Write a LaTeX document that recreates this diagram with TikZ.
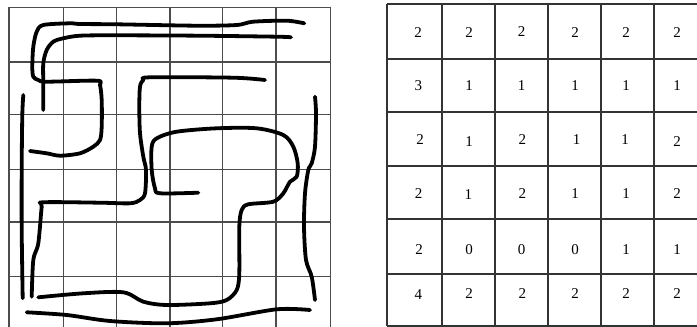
\documentclass[tikz,border=0pt]{standalone}
\usepackage{fontspec}
\setmainfont{Liberation Serif}
\begin{document}
\begin{tikzpicture}[x=1pt,y=-1pt,
  gridline/.style={draw=black!70,line width=1.1pt},
  tabline/.style={draw=black!80,line width=1.8pt},
  pen/.style={draw=black,line width=3.8pt,line cap=round,line join=round},
  num/.style={font=\fontsize{15}{15}\selectfont,inner sep=0pt,anchor=center}]
\useasboundingbox (0,0) rectangle (697,327);
\begin{scope}
\clip (0,0) rectangle (697,327);
% left grid
\foreach \x in {9,63.3,116.7,170,222.7,276,330.7}
  \draw[gridline] (\x,7.3) -- (\x,330);
\foreach \y in {7.3,62,114.3,169.3,222,276.7}
  \draw[gridline] (9,\y) -- (330.7,\y);
% right table
\foreach \x in {386.7,441.7,495,547.7,600.7,654}
  \draw[tabline] (\x,4) -- (\x,326);
\foreach \y in {4,59,111.7,166,219.3,274,326}
  \draw[tabline] (386.7,\y) -- (700,\y);
\end{scope}
% hand-drawn strokes
\draw[pen] plot[smooth,tension=0.5] coordinates {(304.3,23.3) (286.7,20.7) (253,21.7) (236.7,25) (196.7,25.7) (116.7,24.3) (80,24) (70,23.3) (43.3,25) (36.7,31.7) (33.3,46.7) (32.3,66.7) (33.3,76.7) (38.3,80) (46.7,81.7) (96.7,80.7) (100,85) (101.7,100) (101.7,126.7) (100,140) (93.3,146.7) (80,153.3) (60,155.7) (46.7,153.3) (30,151)};
\draw[pen] plot[smooth,tension=0.5] coordinates {(291,37.3) (276.7,36.7) (200,35.7) (116.7,35.3) (80,35.7) (63.3,38.3) (53.3,41.7) (46.7,50) (43.3,63.3) (43.3,83.3) (43.3,100) (43.3,110)};
\draw[pen] plot[smooth,tension=0.5] coordinates {(23.3,95) (22.3,115) (21.7,166.7) (21.7,230) (22.7,298.3)};
\draw[pen] plot[smooth,tension=0.5] coordinates {(265,80) (233.3,77.7) (150,77.3) (143.3,80) (140,86.7) (139.3,106.7) (140,133.3) (143.3,156.7) (146,170) (145,193.3) (140,200) (130,203.3) (100,202.7) (43.3,202.3) (41.7,206.7) (38.3,243.3) (33.3,260) (31.7,296.7)};
\draw[pen] plot[smooth,tension=0.5] coordinates {(198.3,192.7) (160,193.3) (155,188.3) (151.7,170) (151.7,146.7) (156.7,138.3) (176.7,131.7) (216.7,128.3) (256.7,128.3) (283.3,135) (293.3,146.7) (297.7,163.3) (296.7,176.7) (290,181.7) (283.3,193.3) (273.3,201.7) (248.3,204.3) (241.7,210) (239.3,226.7) (239.3,273.3) (236.7,290) (226.7,300) (210,303.3) (166.7,305) (143.3,301.7) (123.3,292.3) (83.3,293.3) (38.3,297.3)};
\draw[pen] plot[smooth,tension=0.5] coordinates {(315,96.7) (316,113.3) (315,146.7) (311.7,163.3) (308.3,170) (305,193.3) (304,226.7) (306,260) (311.7,276.7) (315,300)};
\draw[pen] plot[smooth,tension=0.5] coordinates {(26.7,312.3) (66.7,315) (110,321) (166.7,323.3) (216.7,319.3) (276.7,309.3) (310,310)};
% numbers
\node[num] (r1c1) at (418,33) {2};
\node[num] (r1c2) at (469,33) {2};
\node[num] (r1c3) at (521.7,31.7) {2};
\node[num] (r1c4) at (575,33) {2};
\node[num] (r1c5) at (626,33) {2};
\node[num] (r1c6) at (677,33) {2};
\node[num] (r2c1) at (418.3,86) {3};
\node[num] (r2c2) at (469,86) {1};
\node[num] (r2c3) at (521.7,86) {1};
\node[num] (r2c4) at (575,86) {1};
\node[num] (r2c5) at (626,86) {1};
\node[num] (r2c6) at (677,86) {1};
\node[num] (r3c1) at (420,140) {2};
\node[num] (r3c2) at (469,141.7) {1};
\node[num] (r3c3) at (522.3,140) {2};
\node[num] (r3c4) at (576.7,140) {1};
\node[num] (r3c5) at (625,140) {1};
\node[num] (r3c6) at (677,141.7) {2};
\node[num] (r4c1) at (418.5,193.3) {2};
\node[num] (r4c2) at (468.3,195) {1};
\node[num] (r4c3) at (522.3,193.3) {2};
\node[num] (r4c4) at (575,193.3) {1};
\node[num] (r4c5) at (626,193.3) {1};
\node[num] (r4c6) at (677,193.3) {2};
\node[num] (r5c1) at (419,250) {2};
\node[num] (r5c2) at (469,250) {0};
\node[num] (r5c3) at (521.7,250) {0};
\node[num] (r5c4) at (575,250) {0};
\node[num] (r5c5) at (626,250) {1};
\node[num] (r5c6) at (677,250) {1};
\node[num] (r6c1) at (418.3,295) {4};
\node[num] (r6c2) at (469,293.3) {2};
\node[num] (r6c3) at (522.3,293.3) {2};
\node[num] (r6c4) at (575,293.3) {2};
\node[num] (r6c5) at (626,293.3) {2};
\node[num] (r6c6) at (677,293.3) {2};
\end{tikzpicture}
\end{document}
